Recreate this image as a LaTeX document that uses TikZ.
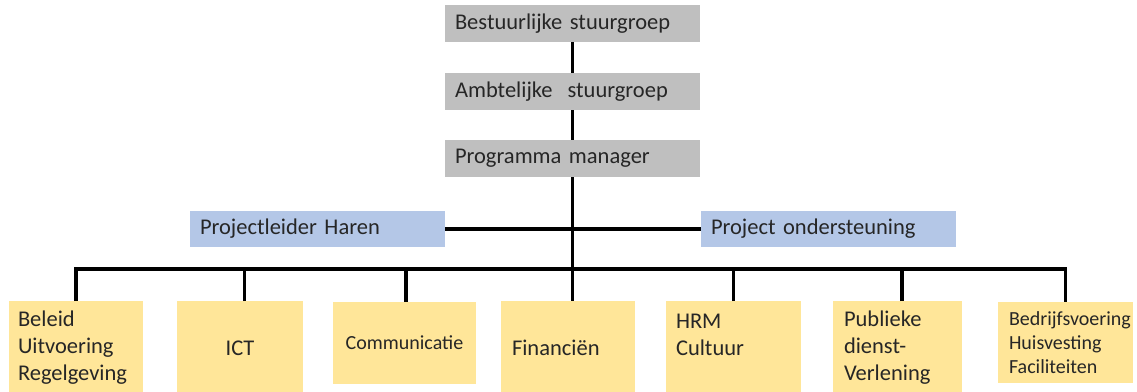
\documentclass[tikz,border=0pt]{standalone}
\usepackage{fontspec}
\setmainfont{Carlito}
\hyphenpenalty=10000
\exhyphenpenalty=10000
\definecolor{boxgray}{HTML}{BFBFBF}
\definecolor{boxblue}{HTML}{B4C7E7}
\definecolor{boxyellow}{HTML}{FFE699}
\tikzset{
  base/.style={inner sep=0pt, outer sep=0pt, font=\fontsize{22.5}{27}\selectfont, text=black!85},
  smallfont/.style={font=\fontsize{20}{24}\selectfont},
  topbox/.style={base, fill=boxgray, minimum width=255pt, minimum height=37pt, text width=235pt, align=left},
  sidebox/.style={base, fill=boxblue, minimum width=255pt, minimum height=36pt, text width=235pt, align=left},
  unitbox/.style={base, fill=boxyellow},
  conn/.style={line width=3.6pt, draw=black},
}
\begin{document}
\begin{tikzpicture}[x=1pt,y=-1pt]
\useasboundingbox (0,0) rectangle (1137,391);
\clip (0,0) rectangle (1137,391);
% top chain
\node[topbox] (best) at (572.5,23.5) {Bestuurlijke stuurgroep};
\node[topbox] (ambt) at (572.5,91.5) {Ambtelijke\ \ stuurgroep};
\node[topbox] (prog) at (572.5,158.5) {Programma manager};
% side boxes
\node[sidebox] (pl) at (317.5,229) {Projectleider Haren};
\node[sidebox] (po) at (828.5,229) {Project ondersteuning};
% units
\node[unitbox, minimum width=134pt, minimum height=94pt, text width=116pt, align=left] (beleid) at (76,348) {Beleid\\Uitvoering\\Regelgeving};
\node[unitbox, minimum width=126pt, minimum height=94pt, text width=106pt, align=center] (ict) at (240,348) {ICT};
\node[unitbox, smallfont, minimum width=143pt, minimum height=82pt, text width=123pt, align=center] (comm) at (404.5,343) {Communicatie};
\node[unitbox, minimum width=134pt, minimum height=94pt, text width=112pt, align=left] (fin) at (568,348) {Financiën};
\node[unitbox, minimum width=135pt, minimum height=94pt, text width=115pt, align=left] (hrm) at (733.5,348) {HRM\\Cultuur\\\mbox{}};
\node[unitbox, minimum width=129pt, minimum height=94pt, text width=107pt, align=left] (pub) at (897.5,348) {Publieke\\dienst-\\Verlening};
\node[unitbox, smallfont, minimum width=135pt, minimum height=81pt, text width=113pt, align=left] (bedr) at (1065.5,342.5) {Bedrijfsvoering\\Huisvesting\\Faciliteiten};
% connectors
\coordinate (bus) at (572.5,269);
\draw[conn] (best) -- (ambt);
\draw[conn] (ambt) -- (prog);
\draw[conn] (prog.south) -- (prog.south |- fin.north);
\draw[conn] (pl) -- (po);
\draw[conn] (beleid.north) |- (bus) -| (bedr.north);
\draw[conn] ([xshift=4.5pt]ict.north) -- ([xshift=4.5pt]ict.north |- bus);
\draw[conn] ([xshift=1.5pt]comm.north) -- ([xshift=1.5pt]comm.north |- bus);
\draw[conn] (hrm.north) -- (hrm.north |- bus);
\draw[conn] ([xshift=4.5pt]pub.north) -- ([xshift=4.5pt]pub.north |- bus);
\end{tikzpicture}
\end{document}
